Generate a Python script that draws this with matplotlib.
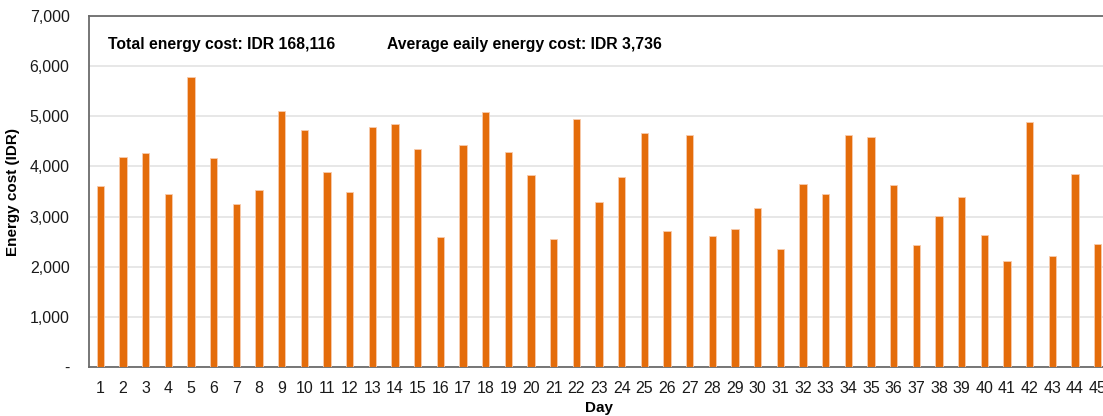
import numpy as np
import matplotlib
matplotlib.use("Agg")
import matplotlib.pyplot as plt
from matplotlib.ticker import FuncFormatter

# daily energy cost in IDR
days = list(range(1, 46))
costs = [
    3619, 4194, 4267, 3454, 5775, 4175, 3249, 3526, 5101, 4717,
    3890, 3493, 4796, 4843, 4353, 2601, 4426, 5094, 4294, 3824,
    2548, 4955, 3295, 3798, 4664, 2713, 4624, 2620, 2753, 3169,
    2349, 3659, 3454, 4631, 4585, 3632, 2442, 3011, 3388, 2634,
    2104, 4882, 2204, 3844, 2462,
]
total_text = "Total energy cost: IDR 168,116"
average_text = "Average eaily energy cost: IDR 3,736"

plt.rcParams['font.family'] = ['Liberation Sans', 'DejaVu Sans']

fig = plt.figure(figsize=(11.03, 4.16), dpi=100)
# the plot area runs a bit past the right edge of the picture
ax = fig.add_axes([89 / 1103, 1 - 367 / 416, 1020 / 1103, 351 / 416])

x = np.arange(len(days))
ax.bar(x, costs, width=0.32, color='#E46C0A', edgecolor='#F8CBAD',
       linewidth=0.6, zorder=3)

ax.set_xlim(-0.5, len(days) - 0.5)
ax.set_ylim(0, 7000)
ax.set_yticks(range(0, 7001, 1000))
ax.yaxis.set_major_formatter(FuncFormatter(lambda v, p: '-' if v == 0 else f"{int(v):,}"))
ax.set_xticks(x)
ax.set_xticklabels([str(d) for d in days])

ax.grid(axis='y', color='#E3E3E3', linewidth=1.2, zorder=0)
ax.tick_params(axis='both', length=0, labelsize=11.5, colors='#1a1a1a')
ax.tick_params(axis='x', pad=10)
ax.tick_params(axis='y', pad=14)

for side in ['left', 'top', 'bottom']:
    ax.spines[side].set_color('#6b6b6b')
    ax.spines[side].set_linewidth(1.3)
ax.spines['right'].set_visible(False)

ax.set_xlabel("Day", fontsize=11, fontweight='bold', labelpad=4)
ax.set_ylabel("Energy cost (IDR)", fontsize=11, fontweight='bold', labelpad=7)

ax.text(108, 416 - 44, total_text, transform=None, fontsize=11.3, fontweight='bold', va='center')
ax.text(387, 416 - 44, average_text, transform=None, fontsize=11.3, fontweight='bold', va='center')

fig.savefig("out.png", dpi=100)
